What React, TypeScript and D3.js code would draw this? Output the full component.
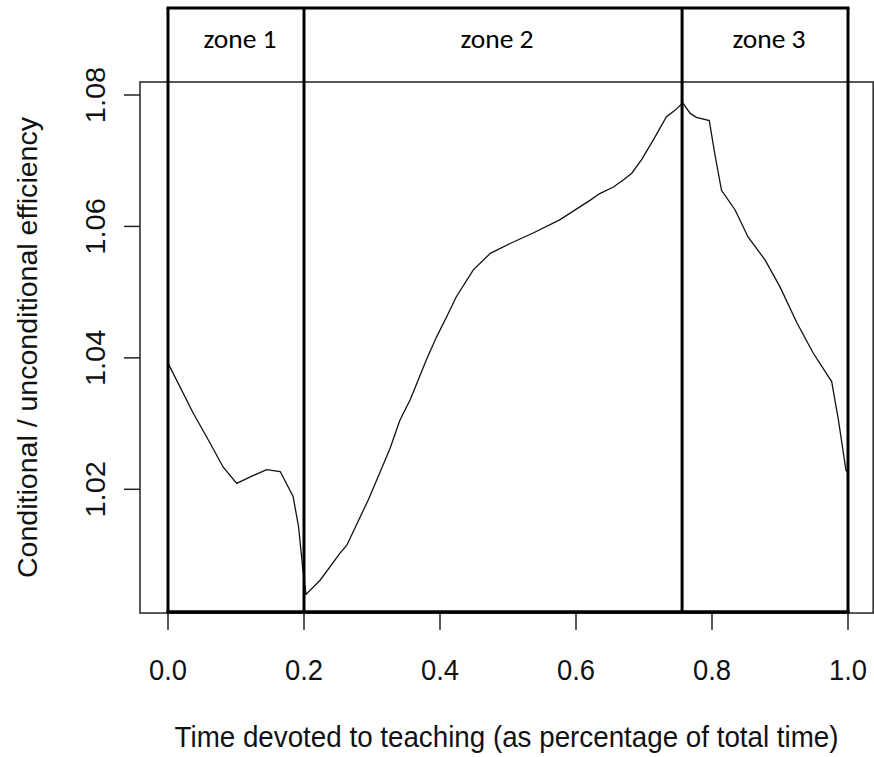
import React from "react";
import { scaleLinear, line } from "d3";

// teaching-time share vs conditional/unconditional efficiency
const timeShare = [
  0, 0.037, 0.062, 0.081, 0.101, 0.121, 0.145, 0.165, 0.184, 0.192, 0.198,
  0.203, 0.224, 0.253, 0.263, 0.295, 0.3265, 0.341, 0.356, 0.38, 0.395, 0.41,
  0.424, 0.449, 0.474, 0.503, 0.537, 0.576, 0.621, 0.635, 0.655, 0.67, 0.682,
  0.696, 0.714, 0.733, 0.746, 0.757, 0.768, 0.777, 0.796, 0.804, 0.814, 0.834,
  0.853, 0.878, 0.9, 0.925, 0.949, 0.976, 0.986, 0.997, 1.0,
];
const efficiency = [
  1.0392, 1.0316, 1.027, 1.0234, 1.0209, 1.0219, 1.023, 1.0227, 1.0189, 1.0143,
  1.0082, 1.004, 1.0062, 1.0103, 1.0115, 1.0185, 1.0262, 1.0305, 1.0336,
  1.0397, 1.0432, 1.0463, 1.0493, 1.0534, 1.0559, 1.0574, 1.059, 1.061, 1.064,
  1.065, 1.066, 1.0671, 1.0681, 1.0701, 1.0732, 1.0767, 1.0777, 1.0788, 1.0772,
  1.0766, 1.0761, 1.0711, 1.0655, 1.0625, 1.0584, 1.0549, 1.0508, 1.0453,
  1.0407, 1.0364, 1.0305, 1.0229, 1.0225,
];

const zoneBreaks = [0, 0.2, 0.756, 1];
const zoneLabels = ["zone 1", "zone 2", "zone 3"];
const xTicks = [0, 0.2, 0.4, 0.6, 0.8, 1.0];
const xTickLabels = ["0.0", "0.2", "0.4", "0.6", "0.8", "1.0"];
const yTicks = [1.02, 1.04, 1.06, 1.08];
const yTickLabels = ["1.02", "1.04", "1.06", "1.08"];

const W = 874;
const H = 757;
const font = "'Liberation Sans', Arial, Helvetica, sans-serif";
const zoneFont = "Carlito, Lato, 'Open Sans', sans-serif";
const squeeze = 0.945;

const App = () => {
  const x = scaleLinear().domain([0, 1]).range([168, 848]);
  const y = scaleLinear().domain([1.02, 1.08]).range([489.3, 95]);

  // R-style plot region (4% padding around the data)
  const boxL = x(-0.0412);
  const boxR = x(1.037);
  const boxT = y(1.08198);
  const boxB = y(1.00117);
  const zoneTop = 8;

  const pts = timeShare.map((t, i) => [t, efficiency[i]] as [number, number]);
  const path = line<[number, number]>()
    .x((d) => x(d[0]))
    .y((d) => y(d[1]))(pts);

  return (
    <svg
      width={W}
      height={H}
      style={{ position: "absolute", left: 0, top: 0, background: "#fff" }}
    >
      <rect x={0} y={0} width={W} height={H} fill="#fff" />

      {/* plot box */}
      <rect
        x={boxL}
        y={boxT}
        width={boxR - boxL}
        height={boxB - boxT}
        fill="none"
        stroke="#222"
        strokeWidth={1.5}
      />

      {/* curve */}
      <path d={path || ""} fill="none" stroke="#111" strokeWidth={1.3} />

      {/* zone frame */}
      <line
        x1={x(0) - 1.5}
        x2={x(1) + 1.5}
        y1={zoneTop}
        y2={zoneTop}
        stroke="#000"
        strokeWidth={3}
      />
      <line
        x1={x(0) - 1.5}
        x2={x(1) + 1.5}
        y1={boxB - 1}
        y2={boxB - 1}
        stroke="#000"
        strokeWidth={3.5}
      />
      {zoneBreaks.map((b, i) => (
        <line
          key={"z" + i}
          x1={x(b)}
          x2={x(b)}
          y1={zoneTop}
          y2={boxB}
          stroke="#000"
          strokeWidth={3}
        />
      ))}
      {zoneLabels.map((lab, i) => (
        <text
          key={lab}
          x={(x(zoneBreaks[i]) + x(zoneBreaks[i + 1])) / 2 + 4}
          y={48}
          textAnchor="middle"
          fontFamily={zoneFont}
          fontSize={27.5}
          fill="#000"
        >
          {lab}
        </text>
      ))}

      {/* x axis */}
      {xTicks.map((t, i) => (
        <g key={"xt" + i}>
          <line
            x1={x(t)}
            x2={x(t)}
            y1={boxB}
            y2={boxB + 17}
            stroke="#222"
            strokeWidth={1.5}
          />
          <text
            transform={`translate(${x(t)},680) scale(${squeeze},1)`}
            textAnchor="middle"
            fontFamily={font}
            fontSize={29}
            fill="#111"
          >
            {xTickLabels[i]}
          </text>
        </g>
      ))}

      {/* y axis */}
      {yTicks.map((t, i) => (
        <g key={"yt" + i}>
          <line
            x1={boxL - 16}
            x2={boxL}
            y1={y(t)}
            y2={y(t)}
            stroke="#222"
            strokeWidth={1.5}
          />
          <text
            transform={`translate(105,${y(t)}) scale(${squeeze},1) rotate(-90)`}
            textAnchor="middle"
            fontFamily={font}
            fontSize={29}
            fill="#111"
          >
            {yTickLabels[i]}
          </text>
        </g>
      ))}

      {/* axis titles */}
      <text
        x={(boxL + boxR) / 2}
        y={747}
        textAnchor="middle"
        fontFamily={font}
        fontSize={29}
        textLength={664}
        lengthAdjust="spacingAndGlyphs"
        fill="#111"
      >
        Time devoted to teaching (as percentage of total time)
      </text>
      <text
        transform={`translate(37,${(boxT + boxB) / 2}) scale(${squeeze},1) rotate(-90)`}
        textAnchor="middle"
        fontFamily={font}
        fontSize={28.5}
        textLength={461}
        lengthAdjust="spacingAndGlyphs"
        fill="#111"
      >
        Conditional / unconditional efficiency
      </text>
    </svg>
  );
};

export default App;
